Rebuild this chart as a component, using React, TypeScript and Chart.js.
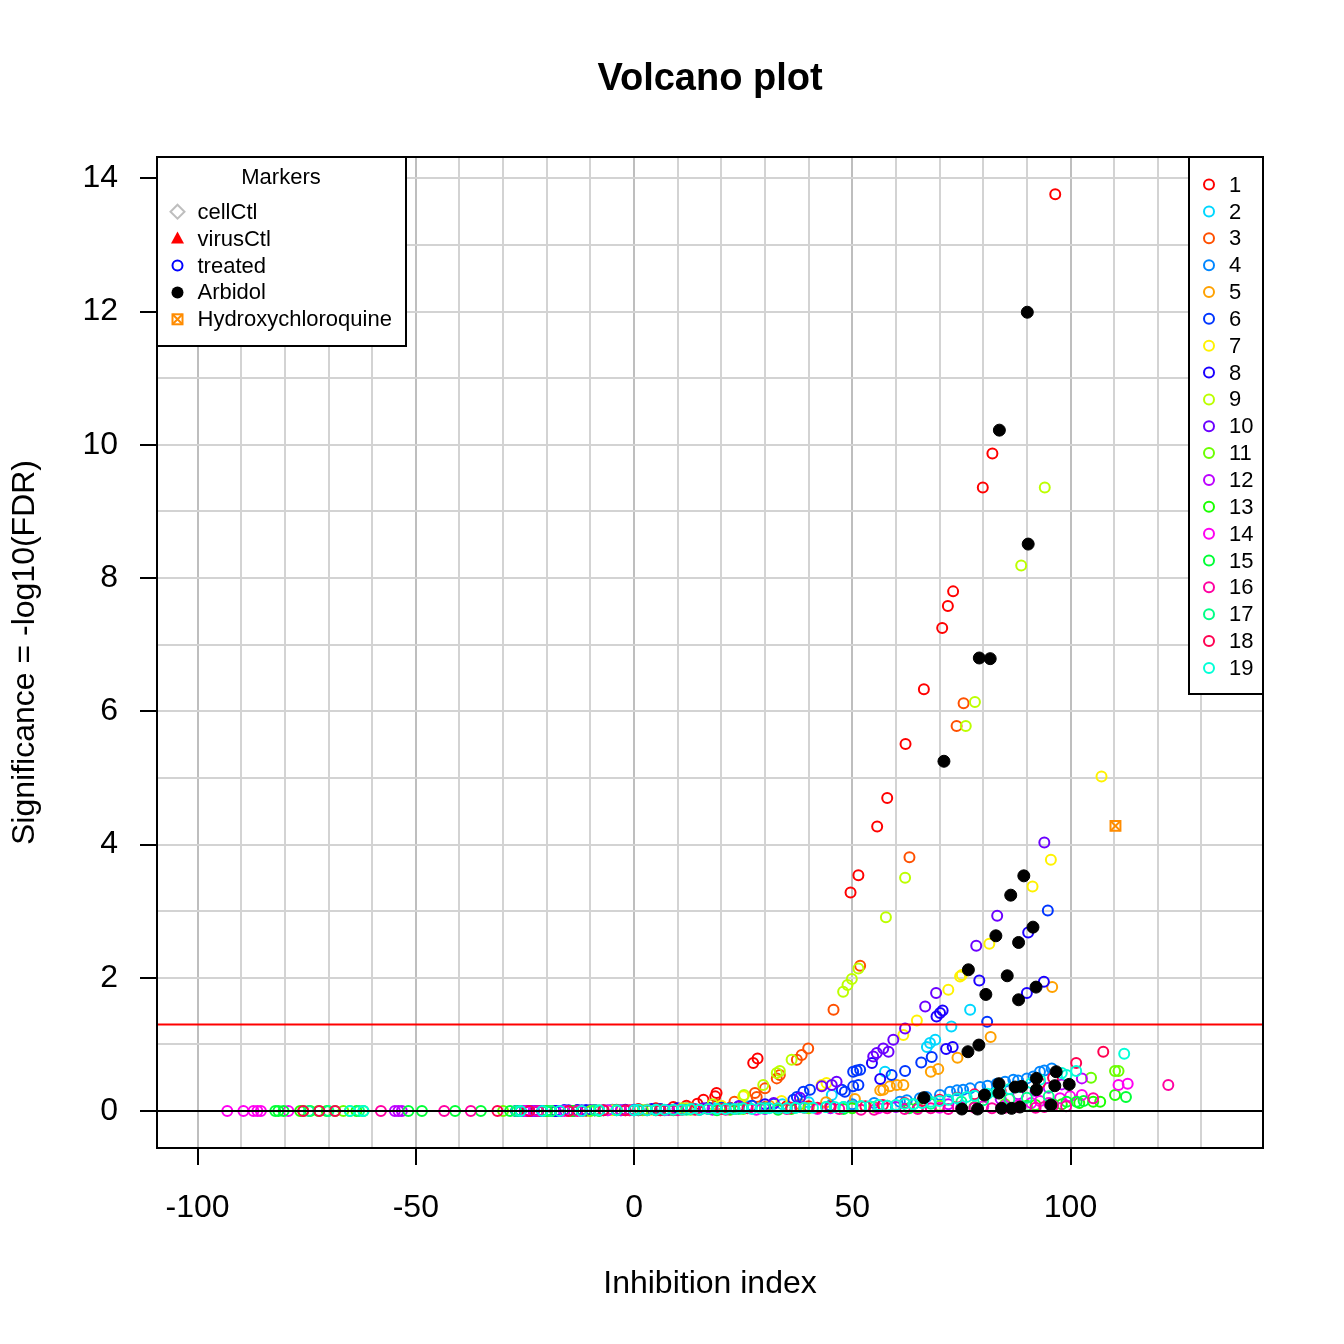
import { useEffect, useRef } from "react";
import { Chart, registerables } from "chart.js";

Chart.register(...registerables);

const FONT = "'Liberation Sans', Arial, Helvetica, sans-serif";

// axis ticks / grid
const xGrid = [-100, -90, -80, -70, -60, -50, -40, -30, -20, -10, 0, 10, 20, 30, 40, 50, 60, 70, 80, 90, 100, 110, 120, 130];
const xTickLabels = [-100, -50, 0, 50, 100];
const yGrid = [0, 1, 2, 3, 4, 5, 6, 7, 8, 9, 10, 11, 12, 13, 14];
const yTickLabels = [0, 2, 4, 6, 8, 10, 12, 14];
const significance = 1.3;

// plate groups 1..19
const groupNames = ["1", "2", "3", "4", "5", "6", "7", "8", "9", "10", "11", "12", "13", "14", "15", "16", "17", "18", "19"];
const groupColors = [
    "#FF0000", "#00D7FF", "#FF5000", "#0086FF", "#FFA100", "#0036FF", "#FFF200", "#1B00FF", "#BCFF00", "#6B00FF",
    "#6BFF00", "#BC00FF", "#1BFF00", "#FF00F2", "#00FF36", "#FF00A1", "#00FF86", "#FF0051", "#00FFD7",
];

const g1x = [-24.5, -18, -13, -9, -4, 1, 5, 9, 12, 14.5, 15.9, 18.6, 18.9, 27.3, 28.3, 49.6, 51.4, 55.7, 58.0, 62.2, 66.4, 70.6, 71.9, 73.1, 79.9, 82.1, 96.5, 22, 30, 35, 40, 45];
const g1y = [0, 0, 0.01, 0.01, 0.02, 0.03, 0.04, 0.06, 0.08, 0.11, 0.17, 0.22, 0.27, 0.72, 0.79, 3.28, 3.54, 4.27, 4.70, 5.51, 6.33, 7.25, 7.58, 7.80, 9.36, 9.87, 13.76, 0.05, 0.06, 0.07, 0.07, 0.08];
const g2x = [-22, -14, -6, 3, 10, 18, 26, 34, 40, 45.3, 57.5, 67.1, 67.8, 69.0, 72.7, 77.0];
const g2y = [0, 0, 0.01, 0.02, 0.03, 0.05, 0.07, 0.1, 0.13, 0.24, 0.59, 0.96, 1.02, 1.07, 1.27, 1.52];
const g3x = [-25, -17, -10, -2, 6, 13, 19, 23, 27.7, 28.1, 30.0, 32.7, 33.4, 37.3, 38.4, 39.9, 45.7, 51.8, 63.1, 73.9, 75.5];
const g3y = [0, 0, 0.01, 0.01, 0.03, 0.05, 0.09, 0.14, 0.27, 0.21, 0.34, 0.49, 0.54, 0.77, 0.84, 0.94, 1.52, 2.18, 3.81, 5.78, 6.12];
const g4x = [-26, -20, -12, -3, 5, 14, 22, 30, 38, 45, 50, 55, 60.9, 65.5, 70.1, 72.4, 75.4, 79.3, 83.1, 86.9, 90.0, 93.0, 95.7, 62.5, 67, 74, 77, 81, 85, 88, 91.5, 94];
const g4y = [0, 0, 0, 0.01, 0.02, 0.03, 0.04, 0.05, 0.06, 0.08, 0.1, 0.12, 0.14, 0.19, 0.24, 0.29, 0.32, 0.36, 0.41, 0.47, 0.49, 0.59, 0.64, 0.16, 0.21, 0.31, 0.34, 0.38, 0.44, 0.46, 0.52, 0.61];
const g5x = [-21, -11, -1, 8, 17, 25, 31, 38, 44, 50.6, 56.4, 57.1, 58.6, 60.2, 61.7, 68.0, 69.7, 74.1, 81.7, 95.8];
const g5y = [0, 0, 0.01, 0.02, 0.04, 0.06, 0.08, 0.1, 0.13, 0.18, 0.31, 0.32, 0.37, 0.39, 0.39, 0.59, 0.63, 0.80, 1.11, 1.86];
const g6x = [-27, -26, -25, -23, -21, -19, -16, -13, -9, -5, 0, 6, 12, 20, 27, 32, 36.5, 37.3, 38.8, 40.3, 47.6, 48.3, 50.2, 51.4, 50.2, 51.0, 51.8, 59.0, 62.1, 65.8, 68.2, 80.9, 94.8, -24, -22, -20, -18, -17, -15, -14, -12, -11, -10];
const g6y = [0, 0, 0, 0, 0, 0, 0.01, 0.01, 0.01, 0.02, 0.02, 0.03, 0.04, 0.06, 0.08, 0.11, 0.17, 0.21, 0.29, 0.32, 0.32, 0.29, 0.37, 0.39, 0.59, 0.61, 0.62, 0.54, 0.60, 0.73, 0.81, 1.34, 3.01, 0, 0, 0, 0, 0, 0, 0, 0.01, 0.01, 0.01];
const g7x = [-15, -5, 4, 12, 20, 25, 33.8, 43.0, 44.1, 61.7, 64.8, 72.0, 74.7, 75.1, 81.4, 91.3, 95.5, 107.1];
const g7y = [0, 0.01, 0.02, 0.04, 0.08, 0.22, 0.15, 0.39, 0.42, 1.14, 1.36, 1.82, 2.02, 2.04, 2.51, 3.37, 3.77, 5.02];
const g8x = [-27, -24, -22, -18, -15, -11, -7, -2, 4, 10, 17, 24, 30, 54.5, 56.4, 69.3, 70.1, 70.7, 71.5, 73.0, 79.1, 90.0, 90.3, 93.9, -26, -25, -23, -21, -20, -19, -16, -13];
const g8y = [0, 0, 0, 0, 0.01, 0.01, 0.01, 0.02, 0.03, 0.04, 0.05, 0.07, 0.1, 0.72, 0.48, 1.42, 1.47, 1.51, 0.93, 0.96, 1.96, 1.77, 2.68, 1.94, 0, 0, 0, 0, 0, 0, 0.01, 0.01];
const g9x = [-20, -8, 3, 11, 18, 25.2, 29.6, 32.7, 33.4, 36.1, 47.9, 48.9, 49.9, 51.4, 57.7, 62.1, 76.0, 78.1, 88.7, 94.1];
const g9y = [0, 0.01, 0.02, 0.04, 0.1, 0.24, 0.39, 0.57, 0.60, 0.77, 1.79, 1.89, 1.98, 2.14, 2.91, 3.50, 5.78, 6.14, 8.19, 9.36];
const g10x = [-24, -17, -9, 0, 8, 16, 24, 32, 38, 43.0, 45.3, 46.4, 54.8, 55.6, 57.1, 58.3, 59.4, 62.1, 66.7, 69.2, 78.4, 83.2, 94.0];
const g10y = [0, 0, 0.01, 0.01, 0.02, 0.04, 0.07, 0.12, 0.2, 0.37, 0.39, 0.44, 0.82, 0.87, 0.94, 0.89, 1.07, 1.24, 1.57, 1.77, 2.48, 2.93, 4.03];
const g11x = [-66.6, -65.1, -30, -19, -10, 2, 13, 25, 40, 55, 70, 85, 95, 104.7, 110.2, 111.0];
const g11y = [0, 0, 0, 0, 0, 0.01, 0.02, 0.03, 0.04, 0.06, 0.08, 0.1, 0.12, 0.50, 0.60, 0.60];
const g12x = [-54.8, -54.0, -53.2, -23, -12, -3, 7, 18, 30, 45, 60, 72, 84, 92, 102.6, 88, 95, 98];
const g12y = [0, 0, 0, 0, 0, 0.01, 0.01, 0.02, 0.03, 0.04, 0.06, 0.1, 0.18, 0.3, 0.49, 0.25, 0.35, 0.4];
const g13x = [-76.5, -75.8, -74.2, -72.3, -70.4, -68.5, -63.6, -62.0, -26, -14, -4, 9, 22, 36, 50, 65, 80, 92, 105.2, 106.8, 110.2, 98, 102];
const g13y = [0, 0, 0, 0, 0, 0, 0, 0, 0, 0, 0.01, 0.01, 0.02, 0.03, 0.04, 0.05, 0.07, 0.09, 0.14, 0.14, 0.24, 0.1, 0.12];
const g14x = [-93.2, -89.5, -87.2, -86.3, -85.5, -79.2, -25, -16, -6, 5, 15, 28, 42, 56, 70, 85, 95, 97.6, 99.9, 102.6, 111.0, 113.1, 75, 80, 88, 91, 93];
const g14y = [0, 0, 0, 0, 0, 0, 0, 0, 0.01, 0.01, 0.02, 0.02, 0.03, 0.04, 0.05, 0.08, 0.12, 0.19, 0.22, 0.24, 0.39, 0.41, 0.06, 0.07, 0.09, 0.12, 0.15];
const g15x = [-82.2, -81.5, -80.3, -51.7, -48.6, -41.0, -35.1, -28.4, -20, -8, 6, 19, 33, 48, 63, 78, 90, 99.1, 101.4, 112.7, 96, 103];
const g15y = [0, 0, 0, 0, 0, 0, 0, 0, 0, 0, 0.01, 0.01, 0.02, 0.03, 0.04, 0.06, 0.08, 0.14, 0.14, 0.21, 0.1, 0.15];
const g16x = [-58.0, -43.5, -37.4, -22, -13, -1, 10, 21, 35, 47, 58, 68, 78, 88, 96, 105.2, 122.4, 52, 55, 62, 65, 72, 75, 82, 85, 92, 94, 99];
const g16y = [0, 0, 0, 0, 0, 0.01, 0.01, 0.02, 0.03, 0.03, 0.04, 0.04, 0.05, 0.06, 0.08, 0.19, 0.39, 0.02, 0.02, 0.03, 0.03, 0.03, 0.04, 0.04, 0.05, 0.05, 0.06, 0.07];
const g17x = [-74.5, -70, -63, -27, -19, -9, 1, 12, 24, 37, 52, 64, 75, 86, 95, 5, 15, 20, 30, 44, 48, 58, 68, 80, 90];
const g17y = [0, 0, 0, 0, 0, 0.01, 0.01, 0.02, 0.03, 0.05, 0.07, 0.1, 0.14, 0.18, 0.22, 0.01, 0.02, 0.03, 0.04, 0.06, 0.06, 0.08, 0.11, 0.16, 0.2];
const g18x = [-75.8, -72.1, -68.5, -31.3, -24, -15, -7, 3, 11, 20, 29, 39, 50, 62, 74, 84, 93, 101.3, 107.5, -2, 1, 6, 9, 14, 17, 23, 26, 33, 36, 42, 45, 53, 57, 66, 70, 78, 88, 96];
const g18y = [0, 0, 0, 0, 0, 0, 0.01, 0.01, 0.02, 0.03, 0.04, 0.05, 0.07, 0.12, 0.2, 0.3, 0.42, 0.72, 0.89, 0.01, 0.01, 0.01, 0.02, 0.02, 0.03, 0.03, 0.04, 0.04, 0.05, 0.05, 0.06, 0.07, 0.09, 0.15, 0.17, 0.25, 0.36, 0.5];
const g19x = [-65.1, -62.0, -26, -21, -17, -12, -8, -4, 0, 3, 7, 11, 15, 19, 23, 27, 31, 35, 39, 44, 50, 56, 62, 68, 72, 76.2, 81, 86, 91, 98.0, 99.1, 101.3, 112.3, 1, 5, 9, 13, 17, 21, 25, 29, 33, 37, 41, 46, 48, 52, 54, 58, 60, 64, 66, 70, 74, 78, 83, 88, 93];
const g19y = [0, 0, 0, 0, 0, 0, 0.01, 0.01, 0.01, 0.01, 0.02, 0.02, 0.02, 0.03, 0.03, 0.03, 0.04, 0.04, 0.05, 0.06, 0.07, 0.09, 0.11, 0.14, 0.17, 0.21, 0.26, 0.33, 0.42, 0.57, 0.54, 0.60, 0.86, 0.02, 0.02, 0.02, 0.03, 0.03, 0.03, 0.04, 0.04, 0.04, 0.05, 0.05, 0.06, 0.06, 0.07, 0.07, 0.08, 0.09, 0.1, 0.12, 0.15, 0.19, 0.23, 0.28, 0.36, 0.47];

const groupX = [g1x, g2x, g3x, g4x, g5x, g6x, g7x, g8x, g9x, g10x, g11x, g12x, g13x, g14x, g15x, g16x, g17x, g18x, g19x];
const groupY = [g1y, g2y, g3y, g4y, g5y, g6y, g7y, g8y, g9y, g10y, g11y, g12y, g13y, g14y, g15y, g16y, g17y, g18y, g19y];

// reference compounds
const arbidolX = [90.1, 83.7, 90.3, 79.1, 81.6, 71.0, 89.3, 86.3, 91.4, 82.9, 88.1, 76.6, 85.5, 92.1, 80.6, 88.1, 79.0, 76.5, 96.7, 92.2, 92.2, 96.4, 99.7, 83.6, 87.3, 88.8, 83.6, 80.3, 66.4, 75.1, 78.7, 84.2, 86.5, 88.4, 95.5];
const arbidolY = [11.99, 10.22, 8.51, 6.80, 6.79, 5.25, 3.53, 3.24, 2.76, 2.63, 2.53, 2.12, 2.03, 1.86, 1.75, 1.67, 0.99, 0.89, 0.59, 0.49, 0.32, 0.38, 0.40, 0.41, 0.36, 0.37, 0.27, 0.24, 0.20, 0.03, 0.03, 0.04, 0.04, 0.06, 0.09];
const hcqX = [110.3];
const hcqY = [4.28];

const markerNames = ["cellCtl", "virusCtl", "treated", "Arbidol", "Hydroxychloroquine"];

const pts = (xs: number[], ys: number[]) => xs.map((x, i) => ({ x, y: ys[i] }));

function drawSquareX(ctx: CanvasRenderingContext2D, x: number, y: number, h: number, color: string) {
    ctx.strokeStyle = color;
    ctx.lineWidth = 2;
    ctx.strokeRect(x - h, y - h, 2 * h, 2 * h);
    ctx.beginPath();
    ctx.moveTo(x - h, y - h); ctx.lineTo(x + h, y + h);
    ctx.moveTo(x + h, y - h); ctx.lineTo(x - h, y + h);
    ctx.stroke();
}

const rDecor = {
    id: "rDecor",
    afterDatasetsDraw(chart: Chart) {
        const { ctx, chartArea: a } = chart;
        ctx.save();
        ctx.strokeStyle = "#000";
        ctx.lineWidth = 2;
        ctx.strokeRect(a.left, a.top, a.right - a.left, a.bottom - a.top);

        ctx.fillStyle = "#000";
        ctx.font = `bold 38px ${FONT}`;
        ctx.textAlign = "center";
        ctx.textBaseline = "middle";
        ctx.fillText("Volcano plot", (a.left + a.right) / 2, 80);

        // markers legend (top left)
        ctx.fillStyle = "#fff";
        ctx.fillRect(a.left, a.top, 249, 189);
        ctx.strokeStyle = "#000";
        ctx.strokeRect(a.left, a.top, 249, 189);
        ctx.fillStyle = "#000";
        ctx.font = `22px ${FONT}`;
        ctx.fillText("Markers", a.left + 124, 178);
        ctx.textAlign = "left";
        const sx = 177.5;
        markerNames.forEach((name, i) => {
            const y = 211.7 + i * 26.9;
            ctx.fillStyle = "#000";
            ctx.fillText(name, 197.5, y + 1);
            ctx.lineWidth = 2;
            if (i === 0) {
                ctx.strokeStyle = "#bebebe";
                ctx.beginPath();
                ctx.moveTo(sx, y - 7); ctx.lineTo(sx + 7, y); ctx.lineTo(sx, y + 7); ctx.lineTo(sx - 7, y);
                ctx.closePath();
                ctx.stroke();
            } else if (i === 1) {
                ctx.fillStyle = "#ff0000";
                ctx.beginPath();
                ctx.moveTo(sx, y - 7); ctx.lineTo(sx + 6.5, y + 5); ctx.lineTo(sx - 6.5, y + 5);
                ctx.closePath();
                ctx.fill();
            } else if (i === 2) {
                ctx.strokeStyle = "#0000ff";
                ctx.beginPath();
                ctx.arc(sx, y, 5, 0, Math.PI * 2);
                ctx.stroke();
            } else if (i === 3) {
                ctx.fillStyle = "#000";
                ctx.beginPath();
                ctx.arc(sx, y, 6, 0, Math.PI * 2);
                ctx.fill();
            } else {
                drawSquareX(ctx, sx, y, 5, "#ff8c00");
            }
        });

        // group legend (top right)
        ctx.fillStyle = "#fff";
        ctx.fillRect(1189, a.top, a.right - 1189, 537);
        ctx.strokeStyle = "#000";
        ctx.lineWidth = 2;
        ctx.strokeRect(1189, a.top, a.right - 1189, 537);
        groupNames.forEach((name, i) => {
            const y = 184.6 + i * 26.85;
            ctx.strokeStyle = groupColors[i];
            ctx.lineWidth = 2;
            ctx.beginPath();
            ctx.arc(1209, y, 5, 0, Math.PI * 2);
            ctx.stroke();
            ctx.fillStyle = "#000";
            ctx.fillText(name, 1229, y + 1);
        });
        ctx.restore();
    },
};

export default function App() {
    const canvasRef = useRef<HTMLCanvasElement>(null);
    const chartRef = useRef<Chart | null>(null);

    useEffect(() => {
        if (!canvasRef.current) return;
        if (chartRef.current) chartRef.current.destroy();

        // R draws group 1 first, so it has to end up at the bottom of the stack
        const groupSets = groupNames.map((name, i) => ({
            type: "scatter" as const,
            label: name,
            data: pts(groupX[i], groupY[i]),
            pointStyle: "circle" as const,
            pointRadius: 5,
            pointBorderWidth: 2,
            pointBorderColor: groupColors[i],
            pointBackgroundColor: "rgba(0,0,0,0)",
        })).reverse();

        chartRef.current = new Chart(canvasRef.current, {
            type: "scatter",
            data: {
                datasets: [
                    {
                        type: "line",
                        label: "zero",
                        data: [{ x: -200, y: 0 }, { x: 200, y: 0 }],
                        borderColor: "#000000",
                        borderWidth: 2,
                        pointRadius: 0,
                    },
                    {
                        type: "line",
                        label: "FDR 0.05",
                        data: [{ x: -200, y: significance }, { x: 200, y: significance }],
                        borderColor: "#ff0000",
                        borderWidth: 2,
                        pointRadius: 0,
                    },
                    {
                        type: "scatter",
                        label: "Hydroxychloroquine",
                        data: pts(hcqX, hcqY),
                        pointStyle: "crossRot",
                        pointRadius: 7,
                        pointBorderWidth: 2,
                        pointBorderColor: "#ff8c00",
                    },
                    {
                        type: "scatter",
                        label: "Hydroxychloroquine box",
                        data: pts(hcqX, hcqY),
                        pointStyle: "rect",
                        pointRadius: 7,
                        pointBorderWidth: 2,
                        pointBorderColor: "#ff8c00",
                        pointBackgroundColor: "rgba(0,0,0,0)",
                    },
                    {
                        type: "scatter",
                        label: "Arbidol",
                        data: pts(arbidolX, arbidolY),
                        pointStyle: "circle",
                        pointRadius: 6,
                        pointBorderWidth: 1,
                        pointBorderColor: "#000000",
                        pointBackgroundColor: "#000000",
                    },
                    ...groupSets,
                ],
            },
            options: {
                animation: false,
                responsive: false,
                layout: { padding: { top: 157, right: 81, left: 0, bottom: 0 } },
                plugins: {
                    legend: { display: false },
                    tooltip: { enabled: false },
                },
                scales: {
                    x: {
                        type: "linear",
                        min: -109.3,
                        max: 144.1,
                        afterBuildTicks: (s) => { s.ticks = xGrid.map((v) => ({ value: v })); },
                        afterFit: (s) => { s.height = 196; },
                        border: { display: false },
                        grid: {
                            color: (c) => (xTickLabels.includes(c.tick?.value) ? "#bebebe" : "#d3d3d3"),
                            lineWidth: 2,
                            tickLength: 17,
                            tickWidth: 2,
                            tickColor: (c) => (xTickLabels.includes(c.tick?.value) ? "#000000" : "rgba(0,0,0,0)"),
                        },
                        ticks: {
                            autoSkip: false,
                            maxRotation: 0,
                            padding: 24,
                            color: "#000",
                            font: { family: FONT, size: 32 },
                            callback: (v) => (xTickLabels.includes(Number(v)) ? String(v) : ""),
                        },
                        title: {
                            display: true,
                            text: "Inhibition index",
                            color: "#000",
                            font: { family: FONT, size: 32 },
                            padding: { top: 0, bottom: 41 },
                        },
                    },
                    y: {
                        type: "linear",
                        min: -0.555,
                        max: 14.32,
                        afterBuildTicks: (s) => { s.ticks = yGrid.map((v) => ({ value: v })); },
                        afterFit: (s) => { s.width = 157; },
                        border: { display: false },
                        grid: {
                            color: "#d3d3d3",
                            lineWidth: 2,
                            tickLength: 17,
                            tickWidth: 2,
                            tickColor: (c) => (yTickLabels.includes(c.tick?.value) ? "#000000" : "rgba(0,0,0,0)"),
                        },
                        ticks: {
                            autoSkip: false,
                            padding: 22,
                            color: "#000",
                            font: { family: FONT, size: 32 },
                            callback: (v) => (yTickLabels.includes(Number(v)) ? String(v) : ""),
                        },
                        title: {
                            display: true,
                            text: "Significance = -log10(FDR)",
                            color: "#000",
                            font: { family: FONT, size: 32 },
                            padding: { top: 6, bottom: 0 },
                        },
                    },
                },
            },
            plugins: [rDecor],
        });

        return () => {
            chartRef.current?.destroy();
            chartRef.current = null;
        };
    }, []);

    return (
        <div style={{ position: "absolute", left: 0, top: 0, width: "1344px", height: "1344px", background: "#fff" }}>
            <canvas
                ref={canvasRef}
                width={1344}
                height={1344}
                style={{ width: "1344px", height: "1344px" }}
                role="img"
                aria-label="Volcano plot of inhibition index against significance"
            />
        </div>
    );
}
